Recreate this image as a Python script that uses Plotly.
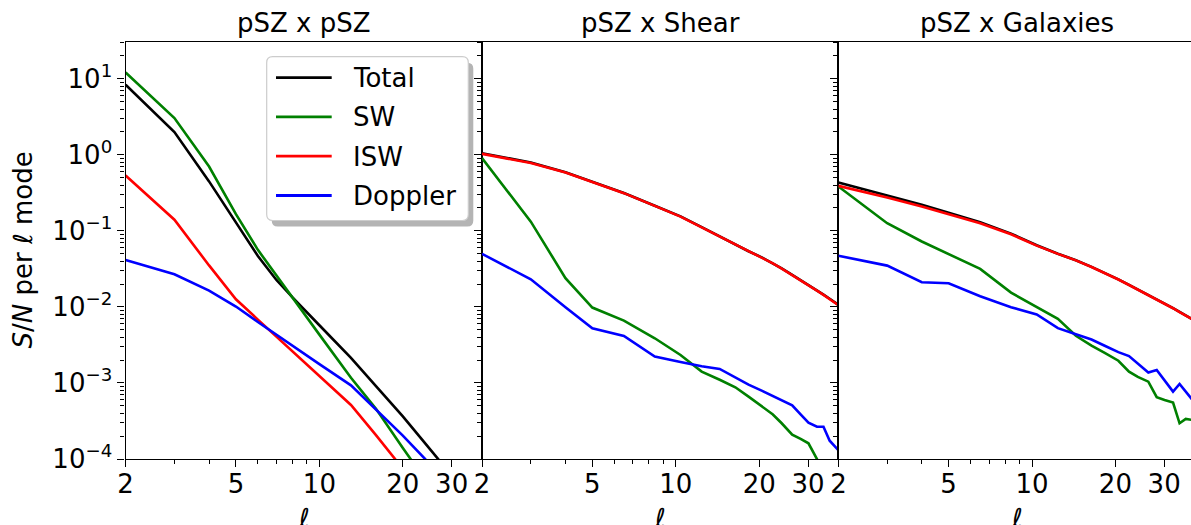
import plotly.graph_objects as go
import math

# ---------------- data ----------------
panel_titles = ["pSZ x pSZ", "pSZ x Shear", "pSZ x Galaxies"]
series_names = ["Total", "SW", "ISW", "Doppler"]
series_colors = ["#000000", "#008000", "#ff0000", "#0000ff"]

# panel 1 : pSZ x pSZ
ell_p1 = [2, 3, 4, 5, 6, 7, 8, 10, 13, 16, 20, 24, 28, 33, 38]
total_p1 = [8.34, 1.99, 0.447, 0.132, 0.0468, 0.0226, 0.0133, 0.00574, 0.00213,
            9.1e-4, 3.63e-4, 1.63e-4, 8.3e-5, 4.0e-5, 2.0e-5]
sw_p1 = [12.1, 3.04, 0.70, 0.166, 0.0562, 0.0257, 0.0130, 0.00432, 0.00117,
         4.57e-4, 1.40e-4, 5.4e-5, 2.2e-5, 8e-6, 3e-6]
isw_p1 = [0.535, 0.140, 0.0351, 0.0126, 0.00681, 0.00405, 0.0026, 0.00124, 5.13e-4,
          2.06e-4, 7.6e-5, 3.4e-5, 1.66e-5, 8e-6, 4e-6]
dop_p1 = [0.0415, 0.0269, 0.0164, 0.0101, 0.00634, 0.00429, 0.00308, 0.00177, 9.3e-4,
          4.5e-4, 2.03e-4, 1.01e-4, 5.6e-5, 2.8e-5, 1.6e-5]

# panels 2 and 3 : binned multipoles
ell_bins = [2, 3, 4, 5, 6.5, 8.4, 10.4, 12.4, 14.4, 16.4, 18.3, 20.5, 22.4, 24.1,
            26.3, 28.2, 30.1, 32.3, 34.1, 35.9, 38.5]

# panel 2 : pSZ x Shear
total_p2 = [1.05, 0.79, 0.59, 0.445, 0.315, 0.214, 0.155, 0.112, 0.0845, 0.066, 0.0539,
            0.0445, 0.0375, 0.032, 0.0264, 0.0226, 0.0195, 0.0165, 0.0145, 0.0128, 0.0107]
sw_p2 = [0.906, 0.132, 0.0239, 0.0098, 0.0066, 0.00387, 0.00233, 0.00141, 0.0011, 8.77e-4,
         6.61e-4, 4.86e-4, 3.85e-4, 2.95e-4, 2.09e-4, 1.84e-4, 1.61e-4, 1.0e-4, 5e-5, 3.2e-5, 2e-5]
isw_p2 = [1.03, 0.778, 0.586, 0.442, 0.313, 0.213, 0.154, 0.111, 0.0841, 0.0658, 0.0537,
          0.0443, 0.0373, 0.0319, 0.0263, 0.0225, 0.0194, 0.0164, 0.0144, 0.0127, 0.0106]
dop_p2 = [0.0498, 0.0231, 0.00991, 0.00525, 0.00415, 0.00222, 0.00188, 0.00166, 0.00153,
          0.00118, 9.5e-4, 7.85e-4, 6.7e-4, 5.94e-4, 5.07e-4, 3.85e-4, 3.0e-4, 2.66e-4,
          2.66e-4, 1.74e-4, 1.32e-4]

# panel 3 : pSZ x Galaxies
total_p3 = [0.433, 0.295, 0.221, 0.173, 0.130, 0.0920, 0.0646, 0.0501, 0.0411, 0.0336, 0.028,
            0.023, 0.0195, 0.017, 0.0145, 0.0126, 0.0111, 0.00966, 0.00861, 0.00776, 0.00668]
sw_p3 = [0.383, 0.126, 0.0724, 0.0493, 0.0316, 0.0154, 0.01, 0.00695, 0.00417, 0.0031,
         0.00248, 0.00196, 0.00141, 0.0012, 0.00104, 6.49e-4, 5.96e-4, 5.51e-4, 2.95e-4,
         3.36e-4, 3.24e-4]
isw_p3 = [0.39, 0.275, 0.209, 0.166, 0.126, 0.0901, 0.0639, 0.0498, 0.0409, 0.0335, 0.0279,
          0.0229, 0.0194, 0.0169, 0.0144, 0.0125, 0.011, 0.0096, 0.00856, 0.00771, 0.00664]
dop_p3 = [0.0469, 0.0349, 0.0211, 0.0205, 0.0138, 0.00991, 0.00794, 0.00525, 0.00438,
          0.00373, 0.00308, 0.00254, 0.00226, 0.00179, 0.00137, 0.00148, 0.00107, 7.69e-4,
          9.7e-4, 7.76e-4, 5.62e-4]

x_major_ticks = [2, 5, 10, 20, 30]
x_minor_ticks = [3, 4, 6, 7, 8, 9]
y_major_ticks = [1e-4, 1e-3, 1e-2, 1e-1, 1e0, 1e1]
y_tick_labels = ["10<sup>−4</sup>", "10<sup>−3</sup>", "10<sup>−2</sup>",
                 "10<sup>−1</sup>", "10<sup>0</sup>", "10<sup>1</sup>"]
y_minor_ticks = [m * 10 ** e for e in range(-4, 2) for m in range(2, 10)]

panels = [
    (ell_p1, [total_p1, sw_p1, isw_p1, dop_p1]),
    (ell_bins, [total_p2, sw_p2, isw_p2, dop_p2]),
    (ell_bins, [total_p3, sw_p3, isw_p3, dop_p3]),
]

# ---------------- layout geometry (pixels) ----------------
W, H = 1191, 525
FONT = "DejaVu Sans"
FS = 26


def px(x):
    return x / W


def py(y):
    return 1 - y / H


plot_left, plot_w = 125.6, 356.4
plot_top, plot_bot = 42, 459
x_domains = [
    [px(plot_left), px(plot_left + plot_w)],
    [px(plot_left + plot_w), px(plot_left + 2 * plot_w)],
    [px(plot_left + 2 * plot_w), 1.0],
]
x_max = [38.6, 38.6, 37.5]

fig = go.Figure()

for i, (ell, curves) in enumerate(panels):
    xa = "x" if i == 0 else f"x{i+1}"
    ya = "y" if i == 0 else f"y{i+1}"
    for name, color, vals in zip(series_names, series_colors, curves):
        fig.add_trace(go.Scatter(
            x=ell, y=vals, mode="lines", name=name,
            line=dict(color=color, width=2.6),
            xaxis=xa, yaxis=ya, showlegend=False,
        ))

axis_common = dict(
    type="log", showgrid=False, zeroline=False, showline=True,
    linecolor="black", linewidth=1.3, ticks="outside", ticklen=7,
    tickwidth=1.3, tickcolor="black",
    tickfont=dict(family=FONT, size=FS, color="black"),
    automargin=False,
)

layout = dict(
    width=W, height=H, autosize=False,
    margin=dict(l=0, r=0, t=0, b=0),
    paper_bgcolor="white", plot_bgcolor="white",
    template="none",
    font=dict(family=FONT, size=FS, color="black"),
    showlegend=False,
)

for i in range(3):
    sfx = "" if i == 0 else str(i + 1)
    layout["xaxis" + sfx] = dict(
        axis_common, domain=x_domains[i],
        range=[math.log10(2), math.log10(x_max[i])],
        anchor="y" + sfx, mirror=True,
        tickmode="array", tickvals=x_major_ticks,
        ticktext=[str(v) for v in x_major_ticks],
        ticklabelstandoff=-5,
        minor=dict(tickmode="array", tickvals=x_minor_ticks, ticks="outside",
                   ticklen=4, tickwidth=1, tickcolor="black", showgrid=False),
    )
    layout["yaxis" + sfx] = dict(
        axis_common, domain=[py(plot_bot), py(plot_top)],
        range=[-4, 1.483], anchor="x" + sfx,
        mirror=(i < 2),
        tickmode="array", tickvals=y_major_ticks, ticktext=y_tick_labels,
        showticklabels=(i == 0),
        minor=dict(tickmode="array", tickvals=y_minor_ticks, ticks="outside",
                   ticklen=4, tickwidth=1, tickcolor="black", showgrid=False),
    )

annotations = []
centers = [plot_left + plot_w / 2, plot_left + 1.5 * plot_w, plot_left + 2.5 * plot_w]
for c, t in zip(centers, panel_titles):
    annotations.append(dict(text=t, x=px(c), y=py(23), xref="paper", yref="paper",
                            xanchor="center", yanchor="middle", showarrow=False,
                            font=dict(family=FONT, size=FS, color="black")))
    annotations.append(dict(text="<i>ℓ</i>", x=px(c), y=py(518), xref="paper", yref="paper",
                            xanchor="center", yanchor="middle", showarrow=False,
                            font=dict(family=FONT, size=FS, color="black")))

annotations.append(dict(text="<i>S</i>/<i>N</i> per <i>ℓ</i> mode", x=px(23), y=py(250.5),
                        xref="paper", yref="paper", xanchor="center", yanchor="middle",
                        textangle=-90, showarrow=False,
                        font=dict(family=FONT, size=FS, color="black")))


# ---------------- hand-built legend box (matplotlib style) ----------------
def rounded_rect(x0, y0, x1, y1, r):
    pts = [
        f"M{px(x0 + r)},{py(y0)}",
        f"L{px(x1 - r)},{py(y0)}",
        f"Q{px(x1)},{py(y0)} {px(x1)},{py(y0 + r)}",
        f"L{px(x1)},{py(y1 - r)}",
        f"Q{px(x1)},{py(y1)} {px(x1 - r)},{py(y1)}",
        f"L{px(x0 + r)},{py(y1)}",
        f"Q{px(x0)},{py(y1)} {px(x0)},{py(y1 - r)}",
        f"L{px(x0)},{py(y0 + r)}",
        f"Q{px(x0)},{py(y0)} {px(x0 + r)},{py(y0)}",
        "Z",
    ]
    return " ".join(pts)


lg_x0, lg_y0, lg_x1, lg_y1 = 266.7, 56.7, 468.3, 220.5
shapes = [
    dict(type="path", path=rounded_rect(lg_x0 + 5, lg_y0 + 6, lg_x1 + 5, lg_y1 + 6, 6),
         xref="paper", yref="paper", fillcolor="#b4b4b4", line=dict(width=0), layer="above"),
    dict(type="path", path=rounded_rect(lg_x0, lg_y0, lg_x1, lg_y1, 6),
         xref="paper", yref="paper", fillcolor="white",
         line=dict(color="#cccccc", width=1.2), layer="above"),
]
row_y = [77.7, 116.9, 156.2, 195.5]
for yy, name, color in zip(row_y, series_names, series_colors):
    shapes.append(dict(type="line", x0=px(276), x1=px(331.7), y0=py(yy), y1=py(yy),
                       xref="paper", yref="paper", line=dict(color=color, width=2.8),
                       layer="above"))
    annotations.append(dict(text=name, x=px(350.5), y=py(yy + 0.5), xref="paper", yref="paper",
                            xanchor="left", yanchor="middle", showarrow=False,
                            font=dict(family=FONT, size=FS, color="black")))

layout["shapes"] = shapes
layout["annotations"] = annotations
fig.update_layout(**layout)

fig.write_html(
    "out.html",
    config={"displayModeBar": False},
    post_script="document.body.style.margin='0';document.body.style.overflow='hidden';",
)
